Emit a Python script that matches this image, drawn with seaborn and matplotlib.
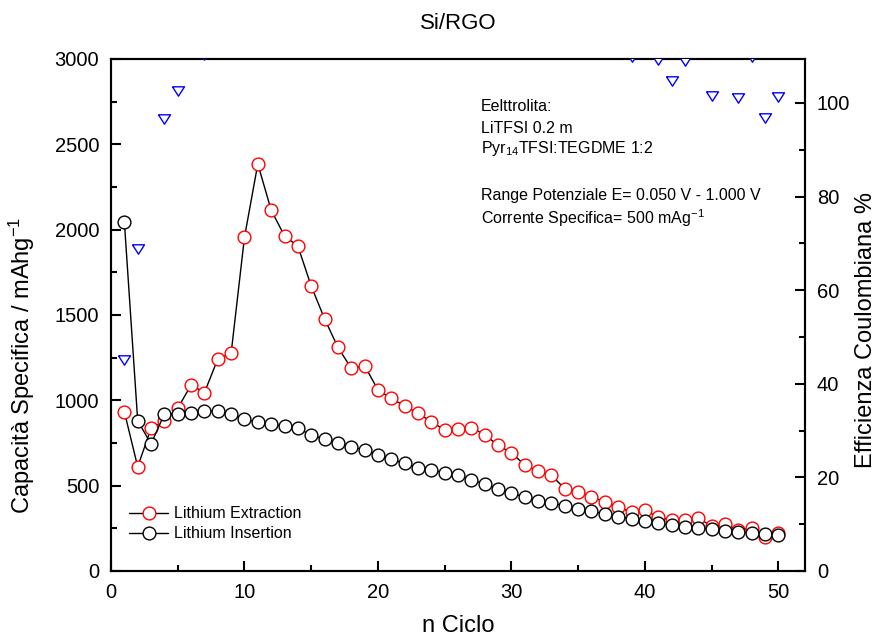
import numpy as np
import pandas as pd
import matplotlib
matplotlib.use("Agg")
import matplotlib.pyplot as plt
from matplotlib.ticker import MultipleLocator
from matplotlib.lines import Line2D
import seaborn as sns

# ---------------- data ----------------
cycles = list(range(1, 51))
extraction = [933, 611, 835, 880, 953, 1090, 1045, 1242, 1275, 1955,
              2385, 2115, 1963, 1904, 1670, 1478, 1311, 1188, 1203, 1062,
              1012, 967, 924, 875, 826, 830, 840, 799, 736, 693,
              621, 586, 561, 482, 465, 435, 404, 373, 346, 357,
              315, 299, 299, 309, 264, 275, 240, 252, 197, 221]
insertion = [2047, 881, 744, 920, 920, 928, 937, 937, 918, 891,
             871, 859, 850, 836, 797, 772, 752, 728, 709, 682,
             654, 631, 605, 590, 577, 561, 533, 510, 479, 455,
             435, 412, 400, 381, 361, 350, 334, 318, 306, 291,
             279, 268, 260, 252, 244, 236, 229, 221, 217, 211]
efficiency = [45.1, 68.8, 112, 96.5, 102.6, 117, 110.3, 133, 139, 219,
              274, 246, 231, 228, 210, 191, 174, 163, 170, 156,
              155, 153, 153, 148, 143, 148, 158, 157, 154, 152,
              143, 142, 140, 127, 129, 124, 121, 117, 109.9, 123,
              109.2, 104.6, 109.0, 123, 101.5, 117, 101.0, 109.8, 96.7, 101.2]

title = "Si/RGO"
xlabel = "n Ciclo"
ylabel_left = "Capacità Specifica / mAhg$^{-1}$"
ylabel_right = "Efficienza Coulombiana %"
label_ext = "Lithium Extraction"
label_ins = "Lithium Insertion"
notes = ["Eelttrolita:", "LiTFSI 0.2 m", "Pyr$_{14}$TFSI:TEGDME 1:2",
         "Range Potenziale E= 0.050 V - 1.000 V",
         "Corrente Specifica= 500 mAg$^{-1}$"]

df = pd.DataFrame({"cycle": cycles, "ext": extraction,
                   "ins": insertion, "eff": efficiency})

# ---------------- style ----------------
sns.set_style("ticks")
plt.rcParams["font.family"] = ["Liberation Sans", "DejaVu Sans"]
plt.rcParams["mathtext.fontset"] = "custom"
plt.rcParams["mathtext.rm"] = "Liberation Sans"
plt.rcParams["mathtext.it"] = "Liberation Sans:italic"
plt.rcParams["mathtext.bf"] = "Liberation Sans:bold"
plt.rcParams["axes.linewidth"] = 1.5
for k in ["text.color", "axes.labelcolor", "xtick.color", "ytick.color",
          "axes.edgecolor", "xtick.labelcolor", "ytick.labelcolor"]:
    plt.rcParams[k] = "black"

fig = plt.figure(figsize=(8.84, 6.39), dpi=100)
ax = fig.add_axes([111 / 884, 1 - 571 / 639, 694 / 884, 512 / 639])

mk = 9.2
sns.lineplot(data=df, x="cycle", y="ext", ax=ax, color="black", lw=1.0,
             marker="o", markersize=mk, markerfacecolor="white",
             markeredgecolor="red", markeredgewidth=1.0, zorder=3)
sns.lineplot(data=df, x="cycle", y="ins", ax=ax, color="black", lw=1.0,
             marker="o", markersize=mk, markerfacecolor="white",
             markeredgecolor="black", markeredgewidth=1.0, zorder=4)

ax.set_xlim(0, 52)
ax.set_ylim(0, 3000)
ax.xaxis.set_major_locator(MultipleLocator(10))
ax.xaxis.set_minor_locator(MultipleLocator(5))
ax.yaxis.set_major_locator(MultipleLocator(500))
ax.yaxis.set_minor_locator(MultipleLocator(250))
ax.tick_params(axis="both", which="major", direction="in", length=7, width=1.5,
               labelsize=14.5, pad=8.5)
ax.tick_params(axis="both", which="minor", direction="in", length=4.3, width=1.5)
ax.tick_params(axis="y", which="both", right=False)
ax.tick_params(axis="x", which="both", top=False)

ax.set_xlabel(xlabel, fontsize=17)
ax.set_ylabel(ylabel_left, fontsize=17)
ax.xaxis.set_label_coords(0.5, -0.086)
ax.yaxis.set_label_coords(-0.107, 0.402)
ax.set_title(title, fontsize=16, pad=21.6)

# efficiency on twin axis
ax2 = ax.twinx()
tri = [(-1, 0.78), (1, 0.78), (0, -0.78), (-1, 0.78)]
sns.scatterplot(data=df, x="cycle", y="eff", ax=ax2, marker=tri, s=75,
                facecolor="white", edgecolor="blue", linewidth=1.0, zorder=5)
ax2.set_ylim(0, 512 / 4.68)
ax2.yaxis.set_major_locator(MultipleLocator(20))
ax2.yaxis.set_minor_locator(MultipleLocator(10))
ax2.tick_params(axis="y", which="major", direction="in", length=7, width=1.5,
                labelsize=14.5, pad=8.5)
ax2.tick_params(axis="y", which="minor", direction="in", length=4.3, width=1.5)
ax2.set_ylabel(ylabel_right, fontsize=17)
ax2.yaxis.set_label_coords(1.072, 0.47)
ax2.set_xlim(0, 52)
for sp in ax2.spines.values():
    sp.set_linewidth(1.5)
    sp.set_color("black")

# legend
handles = [Line2D([], [], color="black", lw=1.0, marker="o", markersize=mk,
                  markerfacecolor="white", markeredgecolor="red", markeredgewidth=1.0),
           Line2D([], [], color="black", lw=1.0, marker="o", markersize=mk,
                  markerfacecolor="white", markeredgecolor="black", markeredgewidth=1.0)]
ax.legend(handles, [label_ext, label_ins], loc="lower left",
          bbox_to_anchor=(0.022, 0.052), frameon=False, fontsize=11.5,
          handlelength=2.4, handletextpad=0.4, labelspacing=0.3,
          borderpad=0.2, borderaxespad=0.0)

# notes
xs = (481 - 111) / 694
baselines = [111, 132.7, 153.3, 200, 224.3]
for t, yb in zip(notes, baselines):
    ax.text(xs, (571 - yb) / 512, t, transform=ax.transAxes, fontsize=11.5,
            va="baseline", ha="left")

fig.savefig("out.png", dpi=100)
